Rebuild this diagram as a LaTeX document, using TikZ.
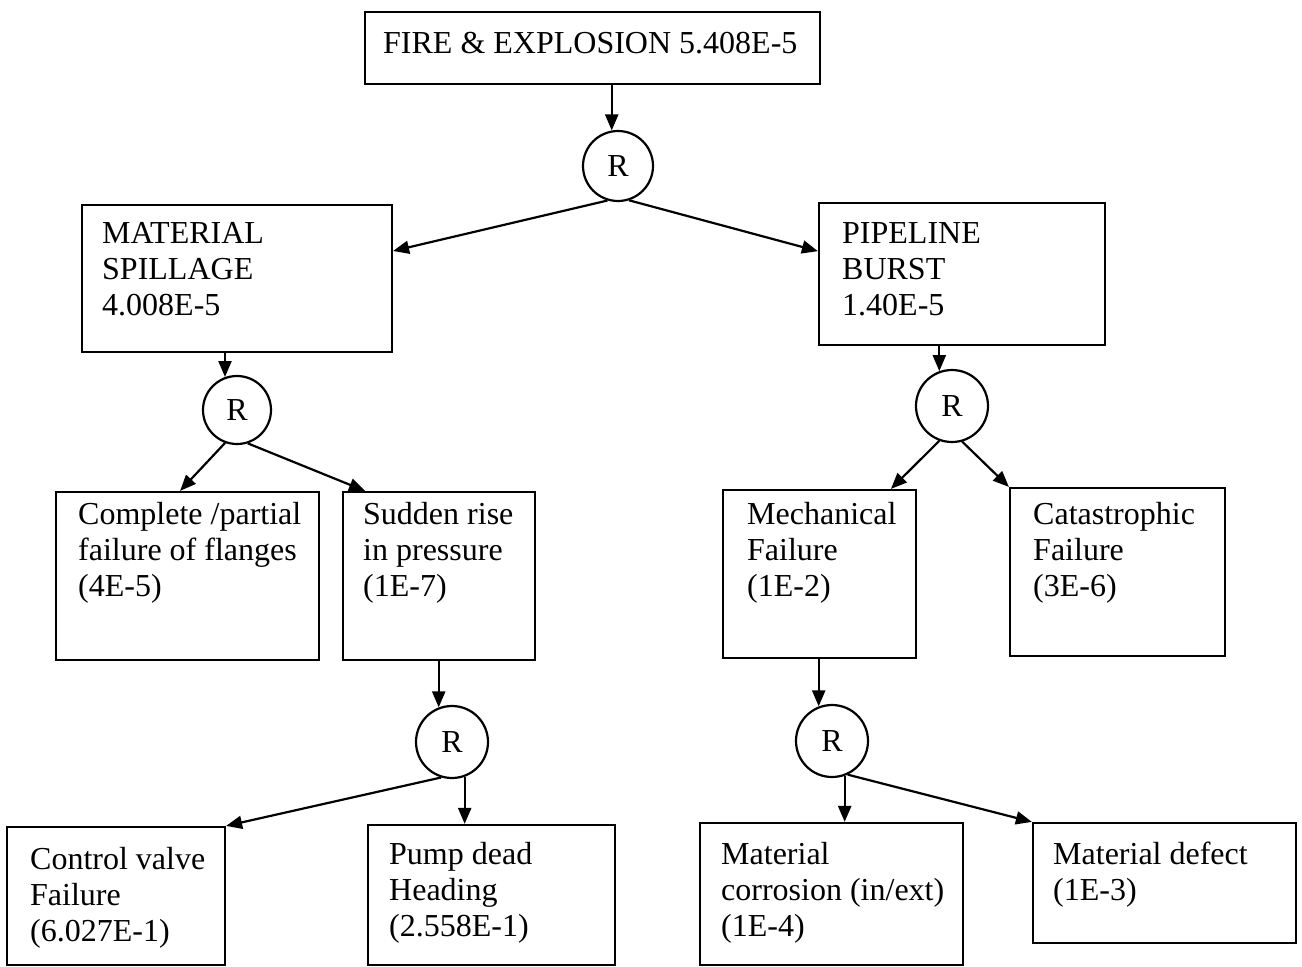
\documentclass[tikz,border=0pt]{standalone}
\usepackage{fontspec}
\setmainfont{Liberation Serif}
\usetikzlibrary{arrows.meta}
\begin{document}
\begin{tikzpicture}[x=1pt,y=-1pt,
  box/.style={draw, line width=2.2pt, inner sep=0pt},
  gate/.style={draw, circle, line width=2.2pt, inner sep=0pt, font=\fontsize{32}{36}\selectfont},
  txt/.style={anchor=north west, inner sep=0pt, align=left, font=\fontsize{32}{36}\selectfont},
  arr/.style={line width=2.2pt, -{Triangle[length=16pt,width=13pt]}}]
\useasboundingbox (0,0) rectangle (1302,967);
\fill[white] (0,0) rectangle (1302,967);
% boxes
\node[box, minimum width=455pt, minimum height=72pt] (top) at (592.5,48) {};
\node[box, minimum width=310pt, minimum height=147pt] (ms) at (237,278.5) {};
\node[box, minimum width=286pt, minimum height=142pt] (pb) at (962,274) {};
\node[box, minimum width=263pt, minimum height=168pt] (cp) at (187.5,576) {};
\node[box, minimum width=192pt, minimum height=168pt] (sr) at (439,576) {};
\node[box, minimum width=193pt, minimum height=168pt] (mf) at (819.5,574) {};
\node[box, minimum width=215pt, minimum height=168pt] (cf) at (1117.5,572) {};
\node[box, minimum width=218pt, minimum height=138pt] (cv) at (116,896) {};
\node[box, minimum width=247pt, minimum height=140pt] (pd) at (491.5,895) {};
\node[box, minimum width=263pt, minimum height=142pt] (mc) at (831.5,894) {};
\node[box, minimum width=263pt, minimum height=120pt] (md) at (1164.5,883) {};
% texts
\node[txt] (topT) at (383,32) {FIRE \& EXPLOSION 5.408E-5};
\node[txt] (msT) at (102,222) {MATERIAL\\SPILLAGE\\4.008E-5};
\node[txt] (pbT) at (842,222) {PIPELINE\\BURST\\1.40E-5};
\node[txt] (cpT) at (78,502) {Complete /partial\\failure of flanges\\(4E-5)};
\node[txt] (srT) at (363,502) {Sudden rise\\in pressure\\(1E-7)};
\node[txt] (mfT) at (747,502) {Mechanical\\Failure\\(1E-2)};
\node[txt] (cfT) at (1033,502) {Catastrophic\\Failure\\(3E-6)};
\node[txt] (cvT) at (30,847) {Control valve\\Failure\\(6.027E-1)};
\node[txt] (pdT) at (389,842) {Pump dead\\Heading\\(2.558E-1)};
\node[txt] (mcT) at (721,842) {Material\\corrosion (in/ext)\\(1E-4)};
\node[txt] (mdT) at (1053,842) {Material defect\\(1E-3)};
% gates
\node[gate, minimum size=70pt] (c1) at (618,166) {R};
\node[gate, minimum size=68pt] (c2) at (237,410) {R};
\node[gate, minimum size=72pt] (c3) at (952,406) {R};
\node[gate, minimum size=72pt] (c4) at (452,742) {R};
\node[gate, minimum size=72pt] (c5) at (832,741) {R};
% connectors
\draw[arr] (top.south -| c1.100) -- (c1.100);
\draw[arr] (c1.253) -- (ms.10);
\draw[arr] (c1.288) -- (pb.171);
\draw[arr] (ms.south -| c2.110) -- (c2.110);
\draw[arr] (c2.250) -- (cp.95);
\draw[arr] (c2.288) -- (sr.131);
\draw[arr] (pb.south -| c3.110) -- (c3.110);
\draw[arr] (c3.250) -- (mf.50);
\draw[arr] (c3.286) -- (cf.north west);
\draw[arr] (sr.south -| c4.111) -- (c4.111);
\draw[arr] (c4.253) -- (cv.north east);
\draw[arr] (c4.290) -- (c4.290 |- pd.north);
\draw[arr] (mf.south -| c5.111) -- (c5.111);
\draw[arr] (c5.290) -- (c5.290 |- mc.north);
\draw[arr] (c5.295) -- (md.north west);
\end{tikzpicture}
\end{document}
